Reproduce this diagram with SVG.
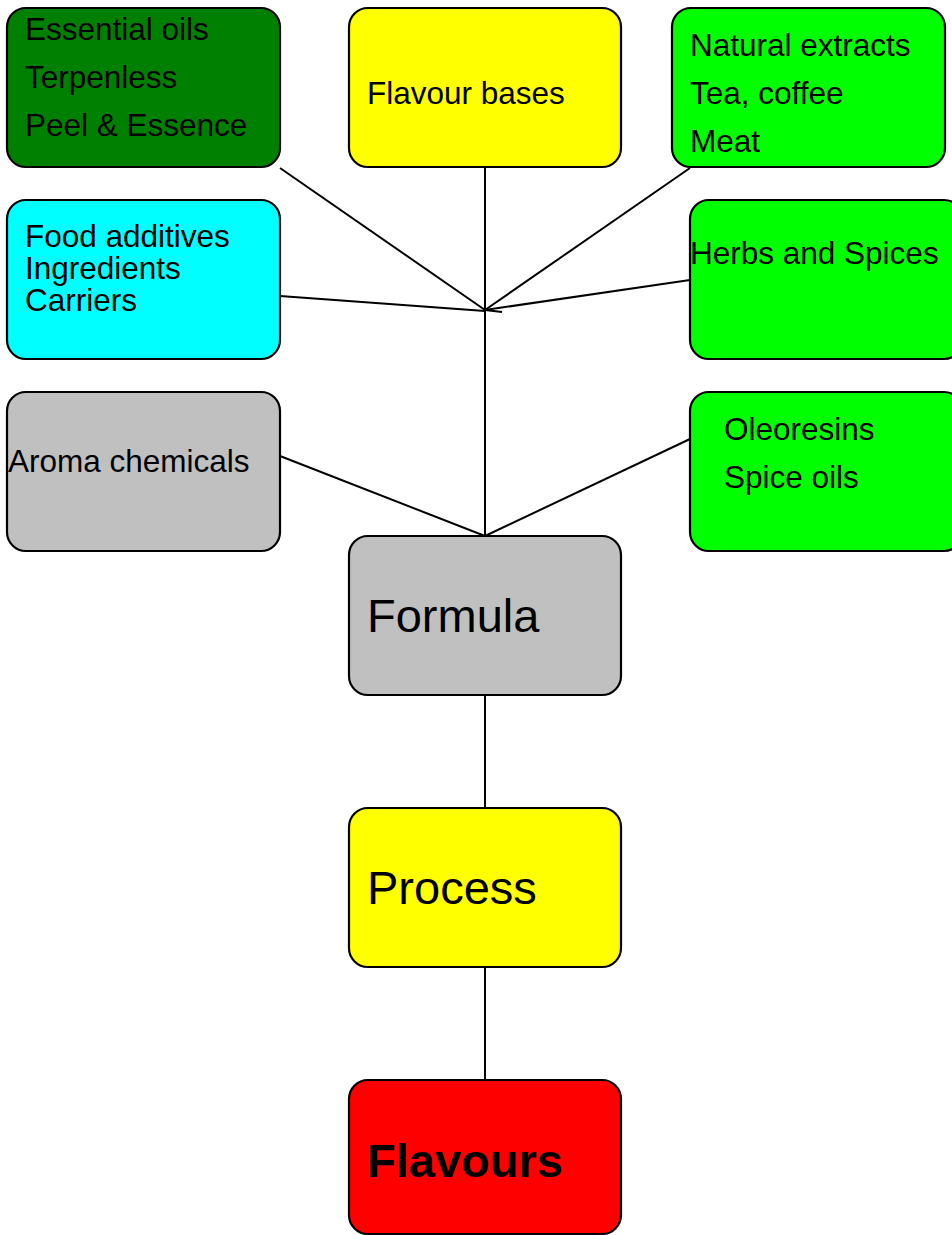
<svg xmlns="http://www.w3.org/2000/svg" width="952" height="1235" viewBox="0 0 952 1235">
<style>
.box{stroke:#000;stroke-width:2.2}
.t{font-family:"Liberation Sans",Arial,sans-serif;font-size:31.5px;fill:#000}
.big{font-family:"Liberation Sans",Arial,sans-serif;font-size:47px;fill:#000}
.conn line{stroke:#000;stroke-width:2}
</style>
<rect width="952" height="1235" fill="#fff"/>
<g class="conn">
<line x1="280" y1="168" x2="485" y2="310"/>
<line x1="485" y1="167" x2="485" y2="536"/>
<line x1="690" y1="168" x2="485" y2="310"/>
<line x1="280" y1="296" x2="485" y2="311"/>
<line x1="690" y1="280" x2="485" y2="310"/>
<line x1="485" y1="310" x2="502" y2="312"/>
<line x1="280" y1="456" x2="485" y2="536"/>
<line x1="690" y1="439" x2="485" y2="536"/>
<line x1="485" y1="695" x2="485" y2="808"/>
<line x1="485" y1="967" x2="485" y2="1080"/>
</g>
<g id="essential-oils">
<rect class="box" x="7" y="8" width="273" height="159" rx="19" fill="#008000"/>
<text class="t" x="25" y="40">Essential oils</text>
<text class="t" x="25" y="88">Terpenless</text>
<text class="t" x="25" y="136">Peel &amp; Essence</text>
</g>
<g id="flavour-bases">
<rect class="box" x="349" y="8" width="272" height="159" rx="19" fill="#ffff00"/>
<text class="t" x="367" y="104">Flavour bases</text>
</g>
<g id="natural-extracts">
<rect class="box" x="672" y="8" width="273" height="159" rx="19" fill="#00ff00"/>
<text class="t" x="690" y="56">Natural extracts</text>
<text class="t" x="690" y="104">Tea, coffee</text>
<text class="t" x="690" y="152">Meat</text>
</g>
<g id="food-additives">
<rect class="box" x="7" y="200" width="273" height="159" rx="19" fill="#00ffff"/>
<text class="t" x="25" y="247">Food additives</text>
<text class="t" x="25" y="279">Ingredients</text>
<text class="t" x="25" y="311">Carriers</text>
</g>
<g id="herbs-spices">
<rect class="box" x="690" y="200" width="273" height="159" rx="19" fill="#00ff00"/>
<text class="t" x="690" y="264">Herbs and Spices</text>
</g>
<g id="aroma-chemicals">
<rect class="box" x="7" y="392" width="273" height="159" rx="19" fill="#c0c0c0"/>
<text class="t" x="8" y="472">Aroma chemicals</text>
</g>
<g id="oleoresins">
<rect class="box" x="690" y="392" width="273" height="159" rx="19" fill="#00ff00"/>
<text class="t" x="724" y="440">Oleoresins</text>
<text class="t" x="724" y="488">Spice oils</text>
</g>
<g id="formula">
<rect class="box" x="349" y="536" width="272" height="159" rx="19" fill="#c0c0c0"/>
<text class="big" x="367" y="632">Formula</text>
</g>
<g id="process">
<rect class="box" x="349" y="808" width="272" height="159" rx="19" fill="#ffff00"/>
<text class="big" x="367" y="904">Process</text>
</g>
<g id="flavours">
<rect class="box" x="349" y="1080" width="272" height="154" rx="19" fill="#ff0000"/>
<text class="big" x="367" y="1177" font-weight="bold">Flavours</text>
</g>
</svg>
